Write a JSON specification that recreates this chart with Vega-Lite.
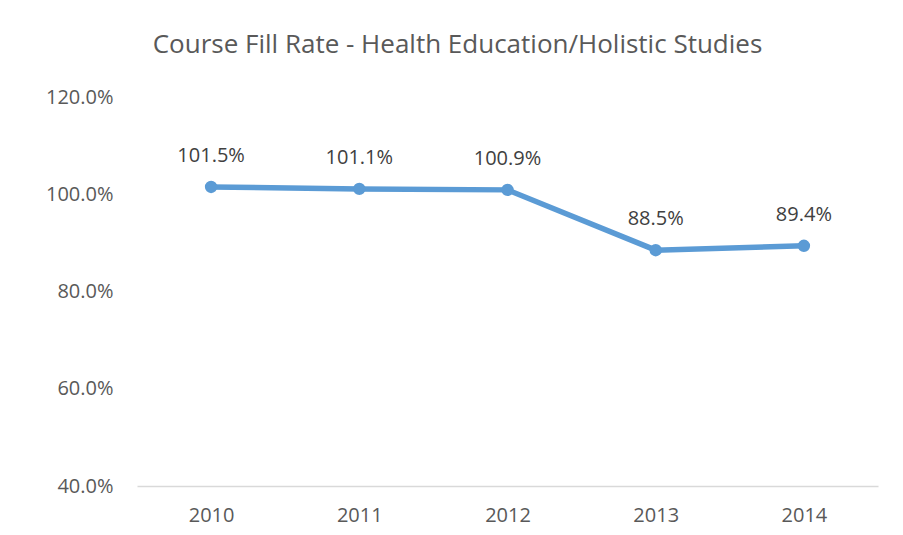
{
  "$schema": "https://vega.github.io/schema/vega-lite/v6.json",
  "width": 741,
  "height": 389,
  "autosize": {"type": "none"},
  "padding": {"left": 137, "top": 97, "right": 25, "bottom": 49},
  "background": "white",
  "title": {
    "text": "Course Fill Rate - Health Education/Holistic Studies",
    "font": "Open Sans",
    "fontSize": 26,
    "fontWeight": "normal",
    "color": "#595959",
    "anchor": "middle",
    "dx": -50,
    "offset": 29
  },
  "data": {
    "values": [
      {"year": "2010", "rate": 1.015},
      {"year": "2011", "rate": 1.011},
      {"year": "2012", "rate": 1.009},
      {"year": "2013", "rate": 0.885},
      {"year": "2014", "rate": 0.894}
    ]
  },
  "encoding": {
    "x": {
      "field": "year",
      "type": "ordinal",
      "title": null,
      "axis": {
        "labelAngle": 0,
        "labelFont": "Open Sans",
        "labelFontSize": 20,
        "labelColor": "#595959",
        "ticks": false,
        "domainColor": "#D9D9D9",
        "domainWidth": 1.5,
        "labelPadding": 19
      }
    },
    "y": {
      "field": "rate",
      "type": "quantitative",
      "title": null,
      "scale": {"domain": [0.4, 1.2], "nice": false, "zero": false},
      "axis": {
        "format": ".1%",
        "values": [0.4, 0.6, 0.8, 1.0, 1.2],
        "labelFont": "Open Sans",
        "labelFontSize": 20,
        "labelColor": "#595959",
        "ticks": false,
        "domain": false,
        "grid": false,
        "labelPadding": 24
      }
    }
  },
  "layer": [
    {
      "mark": {"type": "line", "color": "#5B9BD5", "strokeWidth": 5.5, "point": {"filled": true, "size": 154, "color": "#5B9BD5", "opacity": 1}}
    },
    {
      "mark": {"type": "text", "dy": -31, "font": "Open Sans", "fontSize": 20, "color": "#404040"},
      "encoding": {"text": {"field": "rate", "type": "quantitative", "format": ".1%"}}
    }
  ],
  "config": {"view": {"stroke": null}}
}
